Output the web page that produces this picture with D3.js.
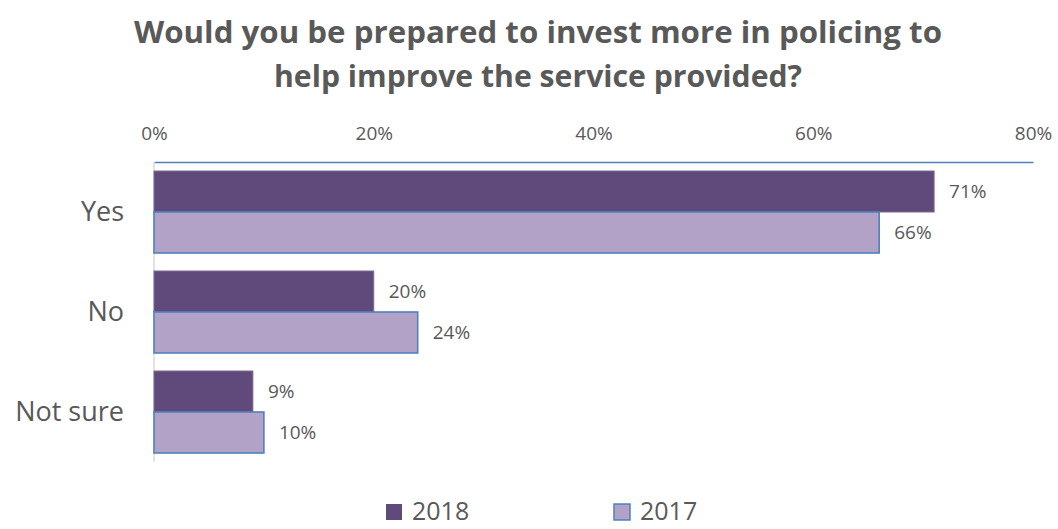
<!DOCTYPE html>
<html>
<head>
<meta charset="utf-8">
<script src="https://cdn.jsdelivr.net/npm/d3@7"></script>
<style>
  html, body { margin: 0; padding: 0; background: #fff; }
  svg { display: block; }
  text { font-family: "Open Sans", "Liberation Sans", sans-serif; fill: #595959; }
</style>
</head>
<body>
<svg id="chart" width="1058" height="529"></svg>
<script>
// Survey answers, share of respondents (%)
const categories = ["Yes", "No", "Not sure"];
const series = ["2018", "2017"];
const values2018 = [71, 20, 9];
const values2017 = [66, 24, 10];
const tickValues = [0, 20, 40, 60, 80];
const titleLines = ["Would you be prepared to invest more in policing to", "help improve the service provided?"];

(function () {
  const colors = { "2018": "#604A7B", "2017": "#B3A2C7" };
  const strokes = { "2018": "#7E6A96", "2017": "#4F81BD" };

  const svg = d3.select("#chart");
  const plotLeft = 154, plotRight = 1033, plotTop = 162, plotBottom = 462;

  const x = d3.scaleLinear().domain([0, 80]).range([plotLeft, plotRight]);
  const y = d3.scaleBand().domain(categories).range([plotTop, plotBottom]).paddingInner(0.18).paddingOuter(0.09);
  const ySub = d3.scaleBand().domain(series).range([0, y.bandwidth()]);

  // Title
  svg.append("g").selectAll("text").data(titleLines).join("text")
    .attr("x", 538)
    .attr("y", (d, i) => 43 + i * 44)
    .attr("text-anchor", "middle")
    .attr("font-size", 31)
    .attr("font-weight", "bold")
    .attr("textLength", (d, i) => i === 0 ? 808 : 528)
    .attr("lengthAdjust", "spacingAndGlyphs")
    .text(d => d);

  // Top axis
  const axis = svg.append("g").attr("transform", `translate(0,${plotTop})`)
    .call(d3.axisTop(x).tickValues(tickValues).tickFormat(d => d + "%").tickSize(0).tickPadding(22));
  axis.select(".domain").attr("stroke", "#4F81BD").attr("stroke-width", 1.5);
  axis.selectAll("text").attr("font-size", 19).attr("fill", "#595959")
    .style("font-family", "\"Open Sans\", \"Liberation Sans\", sans-serif");

  // Left category axis line
  svg.append("line").attr("x1", plotLeft).attr("x2", plotLeft).attr("y1", plotTop).attr("y2", plotBottom)
    .attr("stroke", "#D9D9D9").attr("stroke-width", 1.5);

  // Category labels
  svg.append("g").selectAll("text").data(categories).join("text")
    .attr("x", 124)
    .attr("y", d => y(d) + y.bandwidth() / 2)
    .attr("dy", "0.35em")
    .attr("text-anchor", "end")
    .attr("font-size", 27)
    .text(d => d);

  // Bars
  const rows = categories.flatMap((c, i) => [
    { cat: c, s: "2018", v: values2018[i] },
    { cat: c, s: "2017", v: values2017[i] }
  ]);

  const barG = svg.append("g");
  barG.selectAll("rect").data(rows).join("rect")
    .attr("x", x(0))
    .attr("y", d => y(d.cat) + ySub(d.s))
    .attr("width", d => x(d.v) - x(0))
    .attr("height", ySub.bandwidth())
    .attr("fill", d => colors[d.s])
    .attr("stroke", d => strokes[d.s])
    .attr("stroke-width", d => d.s === "2017" ? 1.6 : 1);

  // Value labels
  barG.selectAll("text").data(rows).join("text")
    .attr("x", d => x(d.v) + 15)
    .attr("y", d => y(d.cat) + ySub(d.s) + ySub.bandwidth() / 2)
    .attr("dy", "0.35em")
    .attr("font-size", 19)
    .attr("fill", "#404040")
    .text(d => d.v + "%");

  // Legend
  const legend = svg.append("g");
  const legendX = { "2018": 386, "2017": 614 };
  series.forEach(s => {
    legend.append("rect")
      .attr("x", legendX[s]).attr("y", 504).attr("width", 16).attr("height", 16)
      .attr("fill", colors[s])
      .attr("stroke", s === "2017" ? strokes[s] : "none")
      .attr("stroke-width", 1.5);
    legend.append("text")
      .attr("x", legendX[s] + 26).attr("y", 511).attr("dy", "0.35em")
      .attr("font-size", 25)
      .text(s);
  });
})();
</script>
</body>
</html>
